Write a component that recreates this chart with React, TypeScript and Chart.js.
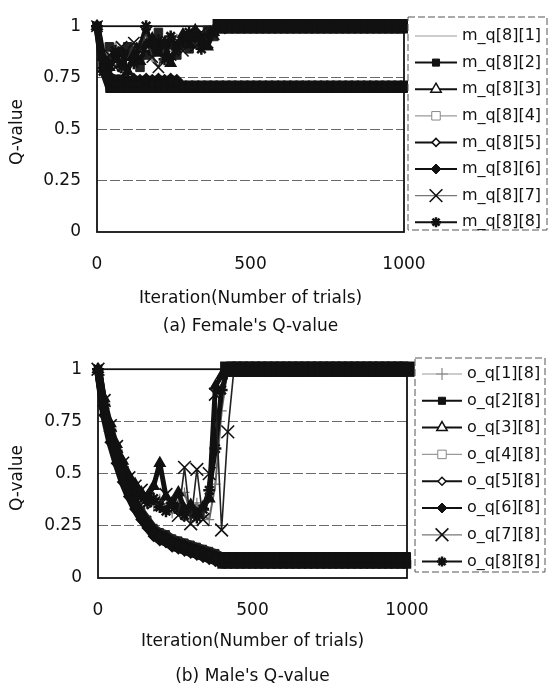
import React, { useEffect, useRef } from 'react';
import { Chart, registerables } from 'chart.js';
import { drawPoint } from 'chart.js/helpers';

Chart.register(...registerables);

// ---------------- data ----------------
const iterations = [
  0, 20, 40, 60, 80, 100, 120, 140, 160, 180,
  200, 220, 240, 260, 280, 300, 320, 340, 360, 380,
  400, 420, 440, 460, 480, 500, 520, 540, 560, 580,
  600, 620, 640, 660, 680, 700, 720, 740, 760, 780,
  800, 820, 840, 860, 880, 900, 920, 940, 960, 980,
  1000,
];
const xTickValues = [0, 500, 1000];
const yTickValues = [0, 0.25, 0.5, 0.75, 1];

const femaleLabels = ['m_q[8][1]', 'm_q[8][2]', 'm_q[8][3]', 'm_q[8][4]', 'm_q[8][5]', 'm_q[8][6]', 'm_q[8][7]', 'm_q[8][8]'];
const maleLabels = ['o_q[1][8]', 'o_q[2][8]', 'o_q[3][8]', 'o_q[4][8]', 'o_q[5][8]', 'o_q[6][8]', 'o_q[7][8]', 'o_q[8][8]'];

// Female's Q-values
const mq1 = [
  1, 0.88, 0.84, 0.92, 0.85, 0.81, 0.89, 0.93, 0.87, 0.83,
  0.89, 0.95, 0.90, 0.96, 0.91, 0.94, 0.99, 0.96, 0.97, 1,
  1, 1, 1, 1, 1, 1, 1, 1, 1, 1,
  1, 1, 1, 1, 1, 1, 1, 1, 1, 1,
  1, 1, 1, 1, 1, 1, 1, 1, 1, 1,
  1,
];
const mq2 = [
  1, 0.80, 0.73, 0.72, 0.72, 0.73, 0.72, 0.72, 0.73, 0.72,
  0.72, 0.72, 0.73, 0.72, 0.70, 0.70, 0.70, 0.70, 0.70, 0.70,
  0.70, 0.70, 0.70, 0.70, 0.70, 0.70, 0.70, 0.70, 0.70, 0.70,
  0.70, 0.70, 0.70, 0.70, 0.70, 0.70, 0.70, 0.70, 0.70, 0.70,
  0.70, 0.70, 0.70, 0.70, 0.70, 0.70, 0.70, 0.70, 0.70, 0.70,
  0.70,
];
const mq3 = [
  1, 0.85, 0.80, 0.84, 0.87, 0.78, 0.86, 0.83, 0.91, 0.94,
  0.87, 0.92, 0.82, 0.90, 0.96, 0.91, 0.98, 0.94, 0.90, 0.97,
  1, 1, 1, 1, 1, 1, 1, 1, 1, 1,
  1, 1, 1, 1, 1, 1, 1, 1, 1, 1,
  1, 1, 1, 1, 1, 1, 1, 1, 1, 1,
  1,
];
const mq4 = [
  1, 0.80, 0.90, 0.86, 0.82, 0.90, 0.88, 0.80, 0.86, 0.92,
  0.97, 0.88, 0.91, 0.86, 0.93, 0.89, 0.95, 0.92, 0.98, 0.95,
  1, 1, 1, 1, 1, 1, 1, 1, 1, 1,
  1, 1, 1, 1, 1, 1, 1, 1, 1, 1,
  1, 1, 1, 1, 1, 1, 1, 1, 1, 1,
  1,
];
const mq5 = [
  1, 0.84, 0.76, 0.745, 0.745, 0.74, 0.745, 0.74, 0.745, 0.74,
  0.745, 0.74, 0.745, 0.74, 0.715, 0.715, 0.715, 0.715, 0.715, 0.715,
  0.715, 0.715, 0.715, 0.715, 0.715, 0.715, 0.715, 0.715, 0.715, 0.715,
  0.715, 0.715, 0.715, 0.715, 0.715, 0.715, 0.715, 0.715, 0.715, 0.715,
  0.715, 0.715, 0.715, 0.715, 0.715, 0.715, 0.715, 0.715, 0.715, 0.715,
  0.715,
];
const mq6 = [
  1, 0.78, 0.695, 0.695, 0.695, 0.695, 0.695, 0.695, 0.695, 0.695,
  0.695, 0.695, 0.695, 0.695, 0.695, 0.695, 0.695, 0.695, 0.695, 0.695,
  0.695, 0.695, 0.695, 0.695, 0.695, 0.695, 0.695, 0.695, 0.695, 0.695,
  0.695, 0.695, 0.695, 0.695, 0.695, 0.695, 0.695, 0.695, 0.695, 0.695,
  0.695, 0.695, 0.695, 0.695, 0.695, 0.695, 0.695, 0.695, 0.695, 0.695,
  0.695,
];
const mq7 = [
  1, 0.82, 0.86, 0.80, 0.90, 0.84, 0.92, 0.88, 0.97, 0.85,
  0.80, 0.90, 0.86, 0.93, 0.88, 0.95, 0.90, 0.97, 0.92, 0.96,
  0.99, 1, 1, 1, 1, 1, 1, 1, 1, 1,
  1, 1, 1, 1, 1, 1, 1, 1, 1, 1,
  1, 1, 1, 1, 1, 1, 1, 1, 1, 1,
  1,
];
const mq8 = [
  1, 0.78, 0.83, 0.88, 0.80, 0.86, 0.82, 0.90, 1.0, 0.88,
  0.93, 0.84, 0.95, 0.89, 0.92, 0.97, 0.93, 0.89, 0.95, 0.98,
  1, 1, 1, 1, 1, 1, 1, 1, 1, 1,
  1, 1, 1, 1, 1, 1, 1, 1, 1, 1,
  1, 1, 1, 1, 1, 1, 1, 1, 1, 1,
  1,
];

// Male's Q-values
const oq1 = [
  1, 0.84, 0.72, 0.62, 0.54, 0.47, 0.43, 0.40, 0.37, 0.35,
  0.38, 0.34, 0.31, 0.37, 0.41, 0.31, 0.36, 0.30, 0.28, 0.45,
  0.80, 1, 1, 1, 1, 1, 1, 1, 1, 1,
  1, 1, 1, 1, 1, 1, 1, 1, 1, 1,
  1, 1, 1, 1, 1, 1, 1, 1, 1, 1,
  1,
];
const oq2 = [
  1, 0.80, 0.67, 0.57, 0.48, 0.41, 0.35, 0.30, 0.26, 0.22,
  0.20, 0.19, 0.17, 0.16, 0.15, 0.14, 0.13, 0.12, 0.11, 0.10,
  0.09, 0.09, 0.09, 0.09, 0.09, 0.09, 0.09, 0.09, 0.09, 0.09,
  0.09, 0.09, 0.09, 0.09, 0.09, 0.09, 0.09, 0.09, 0.09, 0.09,
  0.09, 0.09, 0.09, 0.09, 0.09, 0.09, 0.09, 0.09, 0.09, 0.09,
  0.09,
];
const oq3 = [
  1, 0.86, 0.74, 0.64, 0.56, 0.49, 0.45, 0.41, 0.39, 0.44,
  0.55, 0.39, 0.36, 0.41, 0.33, 0.35, 0.31, 0.34, 0.38, 0.92,
  0.97, 1, 1, 1, 1, 1, 1, 1, 1, 1,
  1, 1, 1, 1, 1, 1, 1, 1, 1, 1,
  1, 1, 1, 1, 1, 1, 1, 1, 1, 1,
  1,
];
const oq4 = [
  1, 0.82, 0.69, 0.59, 0.50, 0.43, 0.37, 0.32, 0.28, 0.24,
  0.22, 0.21, 0.19, 0.18, 0.17, 0.16, 0.15, 0.14, 0.13, 0.12,
  0.105, 0.105, 0.105, 0.105, 0.105, 0.105, 0.105, 0.105, 0.105, 0.105,
  0.105, 0.105, 0.105, 0.105, 0.105, 0.105, 0.105, 0.105, 0.105, 0.105,
  0.105, 0.105, 0.105, 0.105, 0.105, 0.105, 0.105, 0.105, 0.105, 0.105,
  0.105,
];
const oq5 = [
  1, 0.78, 0.65, 0.55, 0.46, 0.39, 0.33, 0.28, 0.24, 0.20,
  0.18, 0.17, 0.15, 0.14, 0.13, 0.12, 0.11, 0.10, 0.09, 0.08,
  0.065, 0.065, 0.065, 0.065, 0.065, 0.065, 0.065, 0.065, 0.065, 0.065,
  0.065, 0.065, 0.065, 0.065, 0.065, 0.065, 0.065, 0.065, 0.065, 0.065,
  0.065, 0.065, 0.065, 0.065, 0.065, 0.065, 0.065, 0.065, 0.065, 0.065,
  0.065,
];
const oq6 = [
  1, 0.81, 0.68, 0.58, 0.49, 0.42, 0.36, 0.31, 0.27, 0.23,
  0.21, 0.20, 0.18, 0.17, 0.16, 0.15, 0.14, 0.13, 0.12, 0.11,
  0.08, 0.08, 0.08, 0.08, 0.08, 0.08, 0.08, 0.08, 0.08, 0.08,
  0.08, 0.08, 0.08, 0.08, 0.08, 0.08, 0.08, 0.08, 0.08, 0.08,
  0.08, 0.08, 0.08, 0.08, 0.08, 0.08, 0.08, 0.08, 0.08, 0.08,
  0.08,
];
const oq7 = [
  1, 0.85, 0.73, 0.63, 0.55, 0.48, 0.44, 0.42, 0.38, 0.36,
  0.35, 0.40, 0.33, 0.30, 0.53, 0.26, 0.52, 0.28, 0.50, 0.88,
  0.23, 0.70, 1, 1, 1, 1, 1, 1, 1, 1,
  1, 1, 1, 1, 1, 1, 1, 1, 1, 1,
  1, 1, 1, 1, 1, 1, 1, 1, 1, 1,
  1,
];
const oq8 = [
  1, 0.83, 0.71, 0.61, 0.53, 0.46, 0.42, 0.39, 0.36, 0.38,
  0.34, 0.32, 0.36, 0.33, 0.30, 0.32, 0.29, 0.33, 0.42, 0.62,
  0.90, 1, 1, 1, 1, 1, 1, 1, 1, 1,
  1, 1, 1, 1, 1, 1, 1, 1, 1, 1,
  1, 1, 1, 1, 1, 1, 1, 1, 1, 1,
  1,
];

const femaleSeries = [mq1, mq2, mq3, mq4, mq5, mq6, mq7, mq8];
const maleSeries = [oq1, oq2, oq3, oq4, oq5, oq6, oq7, oq8];

// ---------------- styles ----------------
const FONT = "'DejaVu Sans', 'Noto Sans', sans-serif";
const INK = '#111';

type Style = {
  borderColor: string; borderWidth: number; bandWidth: number; bandRadius: number; order: number;
  pointStyle: any; pointRadius: number;
  pointBackgroundColor: string; pointBorderColor: string; pointBorderWidth: number;
  legendLine: string; legendRadius: number; legendFill: string; legendStroke: string;
};

const marker = {
  m1: { pointStyle: 'cross', pointBackgroundColor: '#777', pointBorderColor: '#777', pointBorderWidth: 1.2, legendLine: '#9a9a9a', legendFill: '#fff', legendStroke: '#888' },
  m2: { pointStyle: 'rect', pointBackgroundColor: INK, pointBorderColor: INK, pointBorderWidth: 1, legendLine: INK, legendRadius: 5, legendFill: INK, legendStroke: INK },
  m3: { pointStyle: 'triangle', pointBackgroundColor: INK, pointBorderColor: INK, pointBorderWidth: 1.5, legendLine: INK, legendRadius: 6, legendFill: '#fff', legendStroke: INK },
  m4: { pointStyle: 'rect', pointBackgroundColor: '#222', pointBorderColor: '#222', pointBorderWidth: 1, legendLine: '#9a9a9a', legendRadius: 6, legendFill: '#fff', legendStroke: '#888' },
  m5: { pointStyle: 'rectRot', pointBackgroundColor: INK, pointBorderColor: INK, pointBorderWidth: 1.5, legendLine: INK, legendRadius: 4, legendFill: '#fff', legendStroke: INK },
  m6: { pointStyle: 'rectRot', pointBackgroundColor: INK, pointBorderColor: INK, pointBorderWidth: 1, legendLine: INK, legendRadius: 5, legendFill: INK, legendStroke: INK },
  m7: { pointStyle: 'crossRot', pointBackgroundColor: INK, pointBorderColor: INK, pointBorderWidth: 1.6, legendLine: '#777', legendRadius: 9, legendFill: INK, legendStroke: INK },
  m8: { pointStyle: 'star', pointBackgroundColor: INK, pointBorderColor: INK, pointBorderWidth: 2.5, legendLine: INK, legendRadius: 5, legendFill: INK, legendStroke: INK },
};

const femaleStyles: Style[] = [
  { ...marker.m1, borderColor: '#888', borderWidth: 1.5, bandWidth: 12, bandRadius: 0, order: 10, pointRadius: 0, legendRadius: 0 } as Style,
  { ...marker.m2, borderColor: INK, borderWidth: 7, bandWidth: 7, bandRadius: 5, order: 0, pointRadius: 5 } as Style,
  { ...marker.m3, borderColor: INK, borderWidth: 4.5, bandWidth: 12, bandRadius: 8.5, order: 0, pointRadius: 6 } as Style,
  { ...marker.m4, borderColor: '#666', borderWidth: 2, bandWidth: 12, bandRadius: 8.5, order: 9, pointRadius: 6 } as Style,
  { ...marker.m5, borderColor: INK, borderWidth: 7, bandWidth: 7, bandRadius: 5, order: 0, pointRadius: 5 } as Style,
  { ...marker.m6, borderColor: INK, borderWidth: 7, bandWidth: 7, bandRadius: 5, order: 0, pointRadius: 5 } as Style,
  { ...marker.m7, borderColor: '#333', borderWidth: 1.6, bandWidth: 12, bandRadius: 8.5, order: 0, pointRadius: 8 } as Style,
  { ...marker.m8, borderColor: INK, borderWidth: 4.5, bandWidth: 12, bandRadius: 8.5, order: 0, pointRadius: 6 } as Style,
];

const maleStyles: Style[] = [
  { ...marker.m1, borderColor: '#666', borderWidth: 2, bandWidth: 13, bandRadius: 9, order: 10, pointRadius: 5, legendRadius: 6 } as Style,
  { ...marker.m2, borderColor: INK, borderWidth: 8, bandWidth: 8, bandRadius: 5, order: 0, pointRadius: 5 } as Style,
  { ...marker.m3, borderColor: INK, borderWidth: 5, bandWidth: 13, bandRadius: 9, order: 0, pointRadius: 6 } as Style,
  { ...marker.m4, borderColor: '#222', borderWidth: 8, bandWidth: 8, bandRadius: 5, order: 9, pointRadius: 5 } as Style,
  { ...marker.m5, borderColor: INK, borderWidth: 8, bandWidth: 8, bandRadius: 5, order: 0, pointRadius: 5 } as Style,
  { ...marker.m6, borderColor: INK, borderWidth: 8, bandWidth: 8, bandRadius: 5, order: 0, pointRadius: 5 } as Style,
  { ...marker.m7, borderColor: '#222', borderWidth: 1.6, bandWidth: 13, bandRadius: 9, order: 0, pointRadius: 9 } as Style,
  { ...marker.m8, borderColor: INK, borderWidth: 5, bandWidth: 13, bandRadius: 9, order: 0, pointRadius: 6 } as Style,
];

type Geo = {
  canvasTop: number; canvasH: number;
  top: number; bottom: number; left: number; right: number;
  tickPad: number; titleBottomPad: number; captionY: number; yTitleX: number; yTitleY: number;
  legend: { x: number; y: number; w: number; h: number; firstY: number; step: number; lineX0: number; lineX1: number; textX: number };
};

const isFlat = (vals: number[], j: number) =>
  (j > 0 && vals[j] === vals[j - 1]) || (j < vals.length - 1 && vals[j] === vals[j + 1]);

const decoPlugin = {
  id: 'qdeco',
  beforeDatasetsDraw(chart: any) {
    const { ctx, chartArea: a } = chart;
    ctx.save();
    ctx.strokeStyle = INK;
    ctx.lineWidth = 1.8;
    ctx.strokeRect(a.left, a.top, a.right - a.left, a.bottom - a.top);
    ctx.restore();
  },
  afterDraw(chart: any, _args: any, opts: any) {
    const { ctx, chartArea: a } = chart;
    const L = opts.legend;
    const styles: Style[] = opts.styles;
    ctx.save();
    ctx.fillStyle = '#fff';
    ctx.fillRect(L.x, L.y, L.w, L.h);
    ctx.setLineDash([7, 3]);
    ctx.strokeStyle = '#555';
    ctx.lineWidth = 1;
    ctx.strokeRect(L.x, L.y, L.w, L.h);
    ctx.setLineDash([]);
    chart.data.datasets.forEach((ds: any, i: number) => {
      const st = styles[i];
      const y = L.firstY + i * L.step;
      ctx.strokeStyle = st.legendLine;
      ctx.lineWidth = st.legendLine === INK ? 2 : 1.2;
      ctx.beginPath();
      ctx.moveTo(L.lineX0, y);
      ctx.lineTo(L.lineX1, y);
      ctx.stroke();
      if (st.legendRadius > 0) {
        ctx.fillStyle = st.legendFill;
        ctx.strokeStyle = st.legendStroke;
        ctx.lineWidth = st.pointBorderWidth;
        drawPoint(ctx, { pointStyle: st.pointStyle, rotation: 0, radius: st.legendRadius, borderWidth: st.pointBorderWidth }, (L.lineX0 + L.lineX1) / 2, y);
      }
      ctx.fillStyle = INK;
      ctx.font = `16px ${FONT}`;
      ctx.textAlign = 'left';
      ctx.textBaseline = 'middle';
      ctx.fillText(ds.label, L.textX, y);
    });
    // caption
    ctx.fillStyle = INK;
    ctx.font = `17px ${FONT}`;
    ctx.textAlign = 'center';
    ctx.textBaseline = 'middle';
    ctx.fillText(opts.caption, (a.left + a.right) / 2, opts.captionY);
    // y axis title
    ctx.translate(opts.yTitleX, opts.yTitleY);
    ctx.rotate(-Math.PI / 2);
    ctx.fillText('Q-value', 0, 0);
    ctx.restore();
  },
};

function QChart({ geo, labels, series, styles, caption }: { geo: Geo; labels: string[]; series: number[][]; styles: Style[]; caption: string }) {
  const ref = useRef<HTMLCanvasElement>(null);
  useEffect(() => {
    if (!ref.current) return;
    const font = { family: FONT, size: 17 };
    const datasets = series.map((vals, i) => {
      const st = styles[i];
      const flatSeg = (c: any) => vals[c.p0DataIndex] === vals[c.p1DataIndex];
      return {
        label: labels[i],
        data: iterations.map((x, j) => ({ x, y: vals[j] })),
        order: st.order,
        borderColor: st.borderColor,
        borderWidth: st.borderWidth,
        borderJoinStyle: 'round' as any,
        pointStyle: (c: any) => (isFlat(vals, c.dataIndex) && st.bandRadius > 0 ? 'rect' : st.pointStyle),
        pointRadius: (c: any) => (isFlat(vals, c.dataIndex) ? st.bandRadius : st.pointRadius),
        pointBackgroundColor: (c: any) => (isFlat(vals, c.dataIndex) ? INK : st.pointBackgroundColor),
        pointBorderColor: (c: any) => (isFlat(vals, c.dataIndex) ? INK : st.pointBorderColor),
        pointBorderWidth: st.pointBorderWidth,
        fill: false,
        tension: 0,
        clip: false as any,
        segment: {
          borderWidth: (c: any) => (flatSeg(c) ? st.bandWidth : st.borderWidth),
          borderColor: (c: any) => (flatSeg(c) && st.bandWidth > 3 ? INK : st.borderColor),
        },
      };
    });
    const chart = new Chart(ref.current, {
      type: 'line',
      data: { datasets },
      plugins: [decoPlugin],
      options: {
        responsive: false,
        animation: false,
        devicePixelRatio: 1,
        layout: { padding: { left: 0, top: geo.top, right: 549 - geo.right, bottom: 0 } },
        plugins: {
          legend: { display: false },
          tooltip: { enabled: false },
          qdeco: { legend: geo.legend, caption, captionY: geo.captionY, styles, yTitleX: geo.yTitleX, yTitleY: geo.yTitleY },
        } as any,
        scales: {
          x: {
            type: 'linear',
            min: 0,
            max: 1000,
            afterBuildTicks: (s: any) => { s.ticks = xTickValues.map((v) => ({ value: v })); },
            afterFit: (s: any) => { s.height = geo.canvasH - geo.bottom; },
            grid: { display: false, drawTicks: false },
            border: { display: false },
            ticks: { padding: geo.tickPad, color: INK, font, maxRotation: 0, callback: (v: any) => String(v) },
            title: { display: true, text: 'Iteration(Number of trials)', color: INK, font, padding: { top: 0, bottom: geo.titleBottomPad } },
          },
          y: {
            type: 'linear',
            min: 0,
            max: 1,
            afterBuildTicks: (s: any) => { s.ticks = yTickValues.map((v) => ({ value: v })); },
            afterFit: (s: any) => { s.width = geo.left; },
            grid: {
              drawTicks: false,
              lineWidth: 1,
              color: (c: any) => (c.tick && (c.tick.value === 0 || c.tick.value === 1) ? 'rgba(0,0,0,0)' : '#6a6a6a'),
            },
            border: { display: false, dash: [10, 3] },
            ticks: { padding: 16, color: INK, font, callback: (v: any) => String(v) },
            title: { display: false },
          },
        },
      } as any,
    });
    return () => chart.destroy();
  }, []);
  return (
    <canvas
      ref={ref}
      width={549}
      height={geo.canvasH}
      style={{ position: 'absolute', left: 0, top: geo.canvasTop, width: 549, height: geo.canvasH, display: 'block' }}
    />
  );
}

const femaleGeo: Geo = {
  canvasTop: 0, canvasH: 343,
  top: 18, bottom: 232, left: 97, right: 404,
  tickPad: 22, titleBottomPad: 34, captionY: 327, yTitleX: 18, yTitleY: 132,
  legend: { x: 408, y: 17, w: 139, h: 213, firstY: 36, step: 26.6, lineX0: 415, lineX1: 457, textX: 462 },
};

const maleGeo: Geo = {
  canvasTop: 343, canvasH: 343,
  top: 20, bottom: 235, left: 98, right: 407,
  tickPad: 22, titleBottomPad: 34, captionY: 334, yTitleX: 18, yTitleY: 135,
  legend: { x: 415, y: 15, w: 130, h: 214, firstY: 31, step: 26.8, lineX0: 422, lineX1: 462, textX: 467 },
};

export default function App() {
  return (
    <div style={{ position: 'absolute', left: 0, top: 0, width: 549, height: 686, background: '#fff', overflow: 'hidden' }}>
      <QChart geo={femaleGeo} labels={femaleLabels} series={femaleSeries} styles={femaleStyles} caption="(a) Female's Q-value" />
      <QChart geo={maleGeo} labels={maleLabels} series={maleSeries} styles={maleStyles} caption="(b) Male's Q-value" />
    </div>
  );
}
